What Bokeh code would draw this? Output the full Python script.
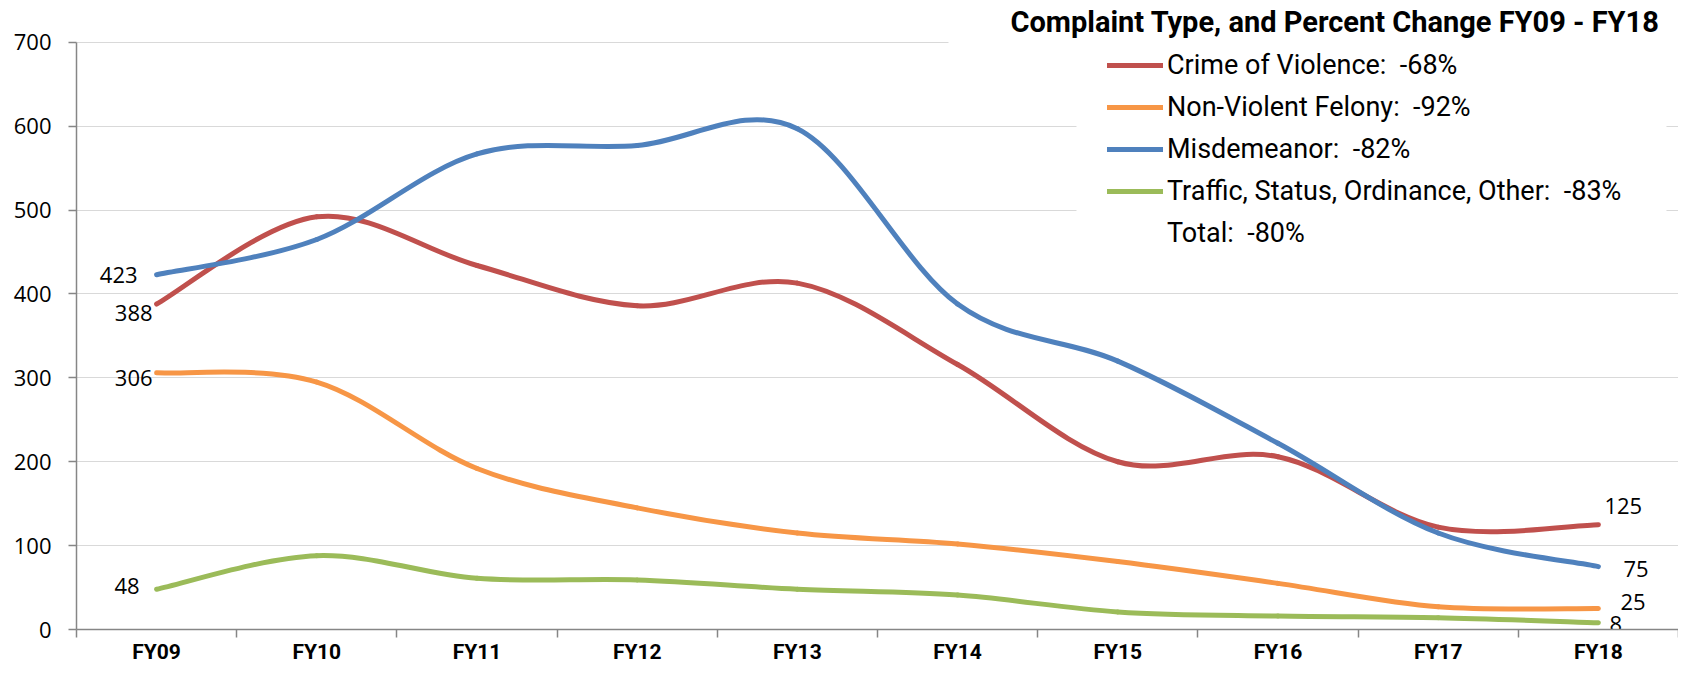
from bokeh.plotting import figure
from bokeh.models import Range1d, FixedTicker, Legend, LegendItem, Label, BoxAnnotation
from bokeh.core.properties import value
from bokeh.embed import file_html
from bokeh.resources import INLINE

# ---------------- data ----------------
years = ["FY09", "FY10", "FY11", "FY12", "FY13", "FY14", "FY15", "FY16", "FY17", "FY18"]
crime_of_violence = [388, 492, 434, 386, 413, 316, 200, 206, 122, 125]
non_violent_felony = [306, 295, 192, 145, 115, 102, 81, 55, 27, 25]
misdemeanor = [423, 465, 567, 577, 597, 388, 320, 222, 115, 75]
traffic_other = [48, 88, 61, 59, 48, 41, 21, 16, 14, 8]

series_labels = [
    "Crime of Violence:  -68%",
    "Non-Violent Felony:  -92%",
    "Misdemeanor:  -82%",
    "Traffic, Status, Ordinance, Other:  -83%",
]
total_label = "Total:  -80%"
legend_title = "Complaint Type, and Percent Change  FY09 - FY18"
y_ticks = [0, 100, 200, 300, 400, 500, 600, 700]

colors = ["#C0504D", "#F79646", "#4F81BD", "#9BBB59"]
series = [crime_of_violence, non_violent_felony, misdemeanor, traffic_other]

NUM_FONT = "Open Sans"
TXT_FONT = "Roboto"
Y_TOP = 749.9

p = figure(width=1678, height=666, x_range=Range1d(0, 10), y_range=Range1d(0, Y_TOP),
           output_backend="svg", toolbar_location=None,
           min_border_left=76, min_border_right=0, min_border_top=0, min_border_bottom=35)
p.outline_line_color = None
p.background_fill_color = "white"
p.border_fill_color = "white"
p.xgrid.visible = False
p.ygrid.grid_line_color = "#D9D9D9"
p.ygrid.grid_line_width = 1

# y axis
p.yaxis.ticker = FixedTicker(ticks=y_ticks)
p.yaxis.bounds = (0, 700)
p.yaxis.axis_line_color = "#868686"
p.yaxis.axis_line_width = 1.5
p.yaxis.major_tick_line_color = "#868686"
p.yaxis.major_tick_line_width = 1.5
p.yaxis.major_tick_out = 8
p.yaxis.major_tick_in = 0
p.yaxis.minor_tick_line_color = None
p.yaxis.major_label_standoff = 17
p.yaxis.major_label_text_font = NUM_FONT
p.yaxis.major_label_text_font_size = "22px"
p.yaxis.major_label_text_color = "black"

# x axis: labels at category centres, ticks at boundaries
centers = [i + 0.5 for i in range(len(years))]
p.xaxis.ticker = FixedTicker(ticks=centers, minor_ticks=list(range(len(years) + 1)))
p.xaxis.major_label_overrides = {c: y for c, y in zip(centers, years)}
p.xaxis.axis_line_color = "#868686"
p.xaxis.axis_line_width = 1.5
p.xaxis.major_tick_line_color = None
p.xaxis.major_tick_out = 0
p.xaxis.major_tick_in = 0
p.xaxis.minor_tick_line_color = "#868686"
p.xaxis.minor_tick_line_width = 1.5
p.xaxis.minor_tick_out = 8
p.xaxis.minor_tick_in = 0
p.xaxis.major_label_standoff = 2
p.xaxis.major_label_text_font = TXT_FONT
p.xaxis.major_label_text_font_style = "bold"
p.xaxis.major_label_text_font_size = "21px"
p.xaxis.major_label_text_color = "black"


def smooth_segments(vals):
    """Bezier segments through the data points (Excel-style smoothed line)."""
    n = len(vals)
    xs = centers
    d = dict(x0=[], y0=[], x1=[], y1=[], cx0=[], cy0=[], cx1=[], cy1=[])
    for i in range(n - 1):
        a = max(i - 1, 0)
        b = min(i + 2, n - 1)
        d["x0"].append(xs[i]); d["y0"].append(vals[i])
        d["x1"].append(xs[i + 1]); d["y1"].append(vals[i + 1])
        d["cx0"].append(xs[i] + (xs[i + 1] - xs[a]) / 6.0)
        d["cy0"].append(vals[i] + (vals[i + 1] - vals[a]) / 6.0)
        d["cx1"].append(xs[i + 1] - (xs[b] - xs[i]) / 6.0)
        d["cy1"].append(vals[i + 1] - (vals[b] - vals[i]) / 6.0)
    return d


LW = 5
for vals, col in zip(series, colors):
    p.bezier(source=smooth_segments(vals), x0="x0", y0="y0", x1="x1", y1="y1",
             cx0="cx0", cy0="cy0", cx1="cx1", cy1="cy1",
             line_color=col, line_width=LW, line_cap="round")

# data labels
first, last = centers[0], centers[-1]
label_offsets_first = [(-4, 9), (-4, 5), (-19, 0), (-17, -3)]
label_offsets_last = [(6, -19), (22, -7), (25, 2), (11, 1)]
for vals, (dx, dy) in zip(series, label_offsets_first):
    p.text(x=[first], y=[vals[0]], text=[str(vals[0])], text_align="right", text_baseline="middle",
           x_offset=dx, y_offset=dy, text_font=value(NUM_FONT), text_font_size="22px",
           text_color="black")
for vals, (dx, dy) in zip(series, label_offsets_last):
    p.text(x=[last], y=[vals[-1]], text=[str(vals[-1])], text_align="left", text_baseline="middle",
           x_offset=dx, y_offset=dy, text_font=value(NUM_FONT), text_font_size="22px",
           text_color="black")

# white areas behind the legend title and the legend entries (hide the gridlines there)
p.add_layout(BoxAnnotation(left=5.443, bottom=690, fill_color="white", fill_alpha=1,
                           line_color=None))
p.add_layout(BoxAnnotation(left=6.242, right=9.925, bottom=450, fill_color="white", fill_alpha=1,
                           line_color=None))

# legend (proxy renderers hold a single NaN so that they draw only in the legend)
nan = float("nan")
leg_renderers = [p.line(x=[nan], y=[nan], line_color=c, line_width=LW, line_cap="round")
                 for c in colors]
total_r = p.line(x=[nan], y=[nan], line_alpha=0)
items = [LegendItem(label=lab, renderers=[r]) for lab, r in zip(series_labels, leg_renderers)]
items.append(LegendItem(label=total_label, renderers=[total_r]))
legend = Legend(items=items, location=(1031, 380), background_fill_color="white",
                background_fill_alpha=1, border_line_color=None, padding=0, margin=0,
                spacing=10, glyph_width=56, glyph_height=32, label_height=32, label_standoff=4,
                label_text_font=TXT_FONT, label_text_font_size="27px", label_text_color="black")
p.add_layout(legend, "center")

p.add_layout(Label(x=5.830, y=724.7, x_units="data", y_units="data", text=legend_title,
                   text_font=TXT_FONT, text_font_style="bold", text_font_size="29px",
                   text_color="black", text_align="left", text_baseline="alphabetic"))

open("out.html", "w").write(file_html(p, INLINE))
